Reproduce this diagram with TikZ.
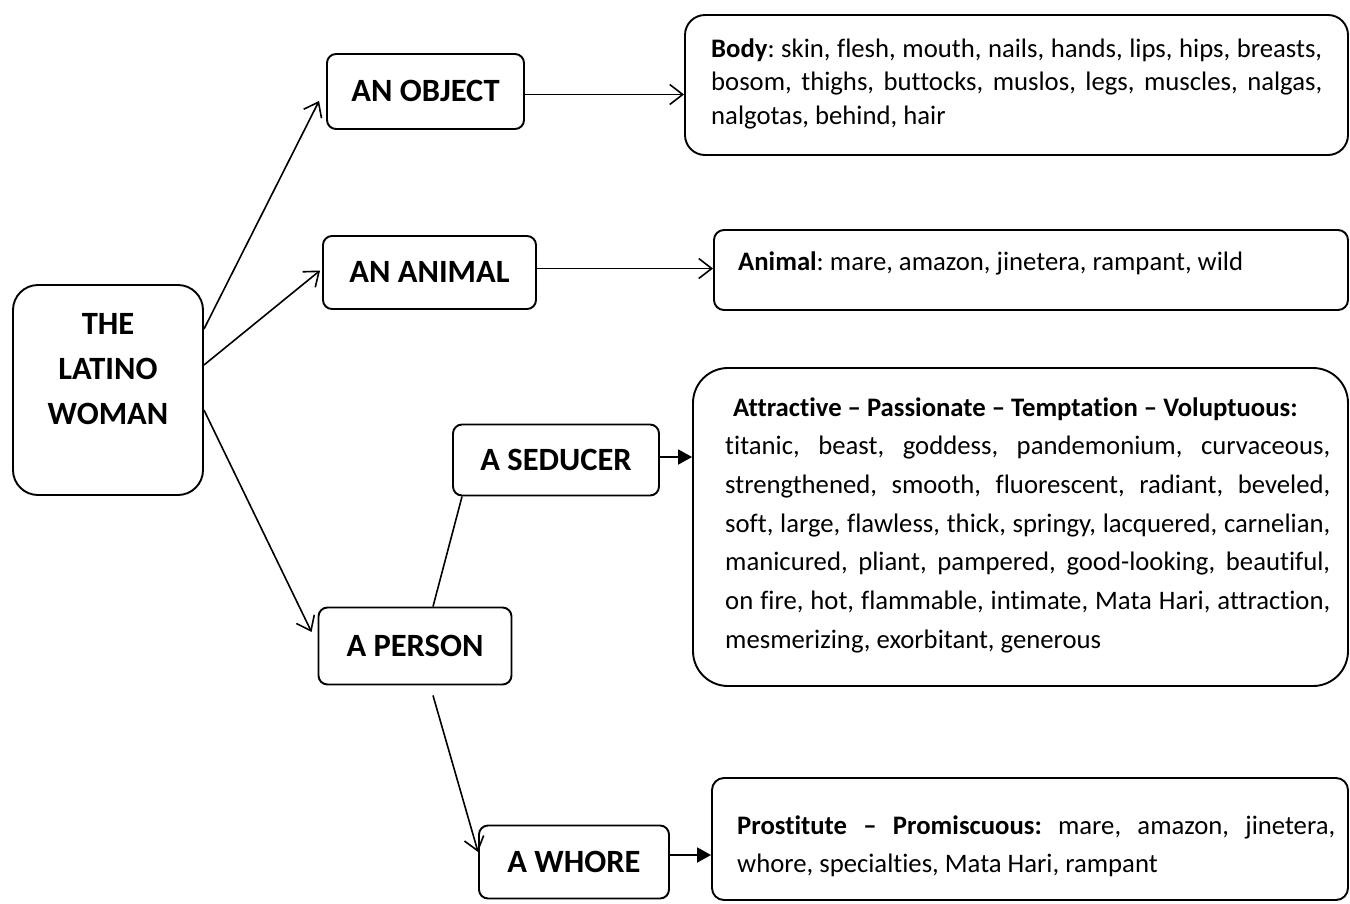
\documentclass[tikz,border=0pt]{standalone}
\usepackage{fontspec}
\setmainfont{Carlito}[Ligatures=CommonOff]
\usetikzlibrary{arrows.meta}
\frenchspacing
\begin{document}
\begin{tikzpicture}[x=1pt,y=-1pt,
  box/.style={draw, line width=1.9pt, inner sep=0pt},
  ttl/.style={box, rounded corners=9pt, font=\fontsize{32.5}{45}\selectfont\bfseries, text height=20.9pt, text depth=0pt},
  para/.style={inner sep=0pt, align=justify, anchor=base west},
  openarrow/.style={line width=1.6pt, -{Straight Barb[length=13pt,width=20pt]}},
  fillarrow/.style={line width=1.9pt, -{Triangle[length=14pt,width=15pt]}},
  plainline/.style={line width=1.6pt}]
\useasboundingbox (0,0) rectangle (1350,903);
\fill[white] (0,0) rectangle (1350,903);

% left column boxes
\node[box, rounded corners=25pt, minimum width=190pt, minimum height=210pt] (latino) at (108,390) {};
\node[font=\fontsize{32.5}{45}\selectfont\bfseries, align=center, inner sep=0pt, anchor=north] (latinotxt) at ([yshift=-29pt]latino.north) {THE\\LATINO\\WOMAN};

\node[ttl, minimum width=197pt, minimum height=75pt] (object) at (425.5,91.5) {AN OBJECT};
\node[ttl, minimum width=213pt, minimum height=73pt] (animal) at (429.5,272.5) {AN ANIMAL};
\node[ttl, minimum width=206pt, minimum height=71pt] (seducer) at (556,460) {A SEDUCER};
\node[ttl, minimum width=193pt, minimum height=77pt] (person) at (415,646) {A PERSON};
\node[ttl, minimum width=190pt, minimum height=73pt] (whore) at (574,862) {A WHORE};

% right column boxes
\node[box, rounded corners=20pt, minimum width=663pt, minimum height=140pt] (bodybox) at (1016.5,85) {};
\node[box, rounded corners=10pt, minimum width=634pt, minimum height=80pt] (animalbox) at (1031,270) {};
\node[box, rounded corners=35pt, minimum width=655pt, minimum height=318pt] (attrbox) at (1020.5,527) {};
\node[box, rounded corners=12pt, minimum width=636pt, minimum height=122pt] (prostbox) at (1030,839) {};

% texts
\node[para, text width=611pt, font=\fontsize{26.7}{33.5}\selectfont] (bodytxt) at (711,57)
 {\textbf{Body}: skin, flesh, mouth, nails, hands, lips, hips, breasts,\linebreak
  bosom, thighs, buttocks, muslos, legs, muscles, nalgas,\linebreak
  nalgotas, behind, hair};
\node[para, font=\fontsize{26.7}{33.5}\selectfont] (animaltxt) at (738,270)
 {\textbf{Animal}: mare, amazon, jinetera, rampant, wild};
\node[para, text width=605pt, font=\fontsize{26.7}{38.7}\selectfont] (attrtxt) at (725,416)
 {\hspace*{8pt}\textbf{Attractive – Passionate – Temptation – Voluptuous:}\\
  titanic, beast, goddess, pandemonium, curvaceous,\linebreak
  strengthened, smooth, fluorescent, radiant, beveled,\linebreak
  soft, large, flawless, thick, springy, lacquered, carnelian,\linebreak
  manicured, pliant, pampered, good-looking, beautiful,\linebreak
  on fire, hot, flammable, intimate, Mata Hari, attraction,\linebreak
  mesmerizing, exorbitant, generous};
\node[para, text width=598pt, font=\fontsize{26.7}{38}\selectfont] (prosttxt) at (737,834)
 {\textbf{Prostitute – Promiscuous:} mare, amazon, jinetera,\linebreak
  whore, specialties, Mata Hari, rampant};

% connectors
\draw[openarrow] ([yshift=-45pt]latino.north east) -- ([xshift=-7pt,yshift=29pt]object.south west);
\draw[openarrow] ([yshift=25pt]latino.east) -- ([xshift=-2pt,yshift=2pt]animal.west);
\draw[openarrow] ([yshift=-20pt]latino.east) -- ([xshift=-6pt,yshift=14pt]person.west);
\draw[openarrow] ([yshift=-3pt]object.east) -- ([yshift=-3pt]object.east -| bodybox.west);
\draw[openarrow] ([yshift=4pt]animal.east) -- ([yshift=4pt]animal.east -| animalbox.west);
\draw[plainline] ([xshift=18pt]person.north) -- ([xshift=10pt]seducer.south west);
\draw[openarrow] ([xshift=18pt,yshift=-10pt]person.south) -- ([yshift=10pt]whore.west);
\draw[fillarrow] ([yshift=3pt]seducer.east) -- ([yshift=3pt]seducer.east -| attrbox.west);
\draw[fillarrow] ([yshift=7pt]whore.east) -- ([yshift=7pt]whore.east -| prostbox.west);
\end{tikzpicture}
\end{document}
